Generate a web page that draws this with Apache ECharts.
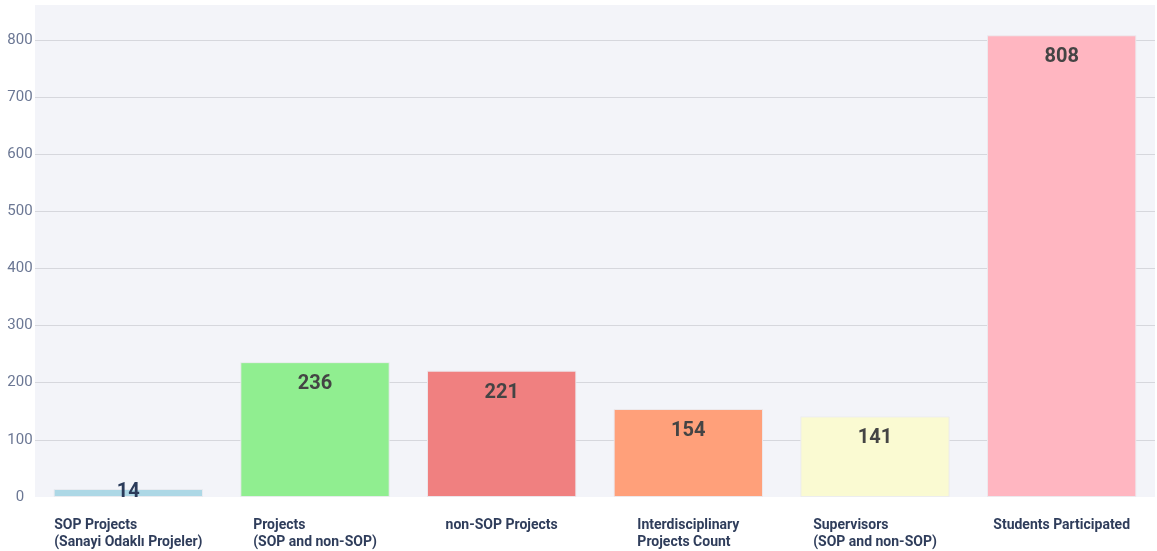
<!DOCTYPE html>
<html>
<head>
<meta charset="utf-8">
<script src="https://cdn.jsdelivr.net/npm/echarts@6/dist/echarts.min.js"></script>
<style>
html,body{margin:0;padding:0;background:#fff;}
#c{width:1157px;height:551px;}
</style>
</head>
<body>
<div id="c"></div>
<script>
const categories = [
  "SOP Projects\n(Sanayi Odaklı Projeler)",
  "Projects\n(SOP and non-SOP)",
  "non-SOP Projects",
  "Interdisciplinary\nProjects Count",
  "Supervisors\n(SOP and non-SOP)",
  "Students Participated"
];
const values = [14, 236, 221, 154, 141, 808];
const barColors = ["#add8e6", "#90ee90", "#f08080", "#ffa07a", "#fafad2", "#ffb6c1"];
const yTicks = [0, 100, 200, 300, 400, 500, 600, 700, 800];

const chart = echarts.init(document.getElementById('c'), null, {renderer: 'canvas'});

const data = values.map((v, i) => {
  const item = {
    value: v,
    itemStyle: {color: barColors[i]}
  };
  if (v < 40) {
    item.label = {position: 'inside', offset: [0, -1], color: '#2b3b5a'};
  }
  return item;
});

const gridColors = yTicks.map(t => t === 0 ? 'transparent' : '#d6d7dd');
gridColors.push('transparent');

chart.setOption({
  animation: false,
  backgroundColor: '#ffffff',
  grid: {
    left: 35, right: 2, top: 5, bottom: 54,
    show: true, backgroundColor: '#f3f4f9', borderWidth: 0
  },
  xAxis: {
    type: 'category',
    data: categories,
    axisLine: {show: false},
    axisTick: {show: false},
    axisLabel: {
      interval: 0,
      margin: 20,
      verticalAlign: 'top',
      formatter: function (v) {
        return v.split('\n').map(l => '{b|' + l + '}').join('\n');
      },
      rich: {
        b: {
          align: 'left',
          fontFamily: 'Roboto',
          fontWeight: 'bold',
          fontSize: 14,
          lineHeight: 17,
          color: '#2f3d5b'
        }
      }
    }
  },
  yAxis: {
    type: 'value',
    min: 0,
    max: 861,
    interval: 100,
    axisLine: {show: false},
    axisTick: {show: false},
    splitLine: {show: true, lineStyle: {color: gridColors, width: 1}},
    axisLabel: {
      margin: 15,
      align: 'center',
      fontFamily: 'Roboto',
      fontSize: 15,
      color: '#6b7794',
      formatter: function (v) { return v % 100 === 0 ? String(v) : ''; }
    }
  },
  series: [{
    type: 'bar',
    data: data,
    barCategoryGap: '20%',
    itemStyle: {borderColor: 'rgba(235,235,240,0.9)', borderWidth: 1},
    label: {
      show: true,
      position: 'insideTop',
      distance: 12,
      fontFamily: 'Roboto',
      fontWeight: 'bold',
      fontSize: 20,
      color: '#444444'
    }
  }]
});
</script>
</body>
</html>
